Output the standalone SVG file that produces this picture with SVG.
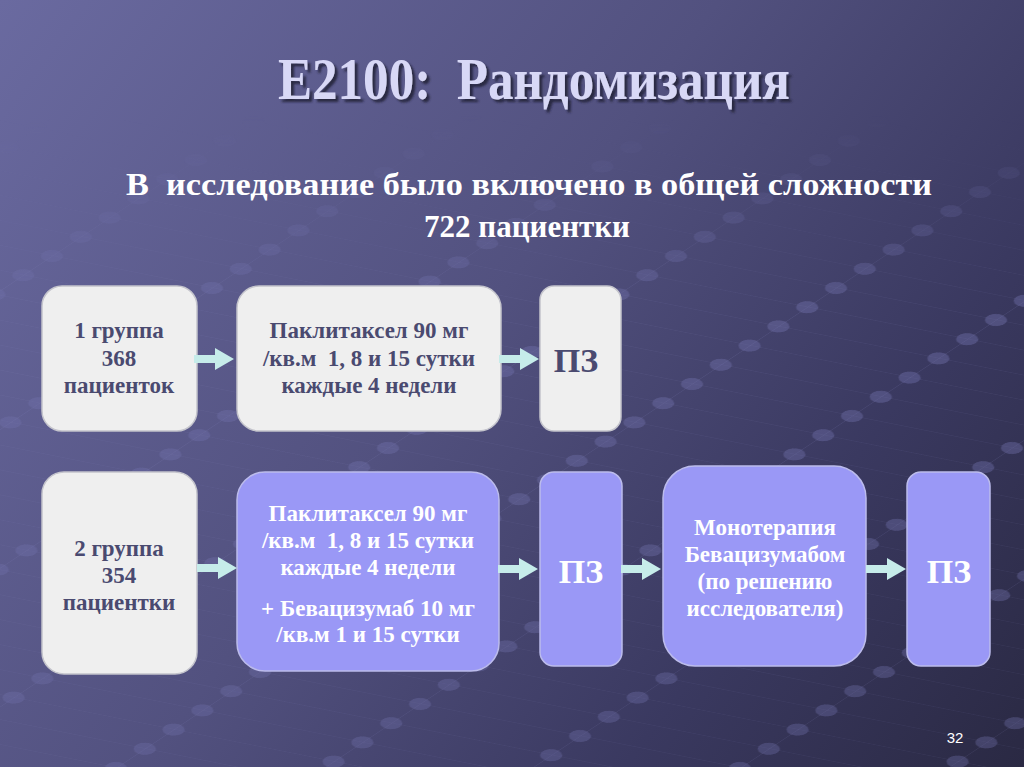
<svg xmlns="http://www.w3.org/2000/svg" width="1024" height="767" viewBox="0 0 1024 767">
  <defs>
    <linearGradient id="bg" x1="0" y1="0" x2="1024" y2="767" gradientUnits="userSpaceOnUse">
      <stop offset="0" stop-color="#6a6aa0"/>
      <stop offset="0.45" stop-color="#52517f"/>
      <stop offset="0.75" stop-color="#3a3960"/>
      <stop offset="1" stop-color="#2a2943"/>
    </linearGradient>
    <linearGradient id="fade" x1="0" y1="0" x2="0" y2="767" gradientUnits="userSpaceOnUse">
      <stop offset="0.15" stop-color="#fff" stop-opacity="0"/>
      <stop offset="0.4" stop-color="#fff" stop-opacity="1"/>
      <stop offset="1" stop-color="#fff" stop-opacity="0.8"/>
    </linearGradient>
    <mask id="gridMask">
      <rect width="1024" height="767" fill="url(#fade)"/>
    </mask>
    <pattern id="grid" patternUnits="userSpaceOnUse" width="32" height="160" patternTransform="matrix(0.9 -0.6 1 0.2 20 0)">
      <line x1="0" y1="0" x2="32" y2="0" stroke="#8c8cc4" stroke-opacity="0.3" stroke-width="1.1"/>
      <line x1="0" y1="0" x2="0" y2="160" stroke="#8c8cc4" stroke-opacity="0.15" stroke-width="1.1"/>
      <g fill="#6e6ea8" fill-opacity="0.45">
        <ellipse rx="11" ry="6" transform="translate(0,0) matrix(0.2564 0.769 -1.282 1.1538 0 0)"/>
        <ellipse rx="11" ry="6" transform="translate(32,0) matrix(0.2564 0.769 -1.282 1.1538 0 0)"/>
        <ellipse rx="11" ry="6" transform="translate(0,160) matrix(0.2564 0.769 -1.282 1.1538 0 0)"/>
        <ellipse rx="11" ry="6" transform="translate(32,160) matrix(0.2564 0.769 -1.282 1.1538 0 0)"/>
      </g>
    </pattern>
    <filter id="shadow" x="-10%" y="-30%" width="120%" height="160%">
      <feDropShadow dx="3" dy="3" stdDeviation="1.2" flood-color="#23223a" flood-opacity="0.9"/>
    </filter>
    <path id="arrow" d="M0,-4 H21 V-11 L40,0 L21,11 V4 H0 Z"/>
    <style>
      .gray { fill: #efefef; stroke: #c4c4cc; stroke-width: 1.5; }
      .lav { fill: #9a98f6; stroke: #bcbcec; stroke-width: 1.5; }
      .t { font-family: "Liberation Serif", "Times New Roman", serif; font-weight: bold; text-anchor: middle; white-space: pre; }
      .dark { fill: #4a4a70; font-size: 23px; }
      .white { fill: #ffffff; font-size: 23px; }
      .pz { font-size: 34px; }
      .arr { fill: #c6ecea; }
    </style>
  </defs>

  <g id="background">
    <rect width="1024" height="767" fill="url(#bg)"/>
    <rect width="1024" height="767" fill="url(#grid)" mask="url(#gridMask)"/>
  </g>

  <g id="title">
    <text x="534" y="99" class="t" font-size="60" fill="#d8d8f6" textLength="512" lengthAdjust="spacingAndGlyphs" filter="url(#shadow)">E2100:  Рандомизация</text>
  </g>

  <g id="subtitle">
    <text x="529" y="195" class="t" font-size="31" fill="#ffffff" textLength="806" lengthAdjust="spacingAndGlyphs">В  исследование было включено в общей сложности</text>
    <text x="527" y="237" class="t" font-size="31" fill="#ffffff">722 пациентки</text>
  </g>

  <g id="group1">
    <rect x="42" y="286" width="155" height="145" rx="20" class="gray"/>
    <text class="t dark" x="119" y="338">1 группа</text>
    <text class="t dark" x="119" y="366">368</text>
    <text class="t dark" x="119" y="393">пациенток</text>
  </g>

  <g id="paclitaxel1">
    <rect x="237" y="286" width="264" height="145" rx="22" class="gray"/>
    <text class="t dark" x="369" y="338">Паклитаксел 90 мг</text>
    <text class="t dark" x="369" y="366">/кв.м  1, 8 и 15 сутки</text>
    <text class="t dark" x="369" y="393">каждые 4 недели</text>
  </g>

  <g id="pz1">
    <rect x="540" y="286" width="81" height="145" rx="14" class="gray"/>
    <text class="t dark pz" x="576" y="372">ПЗ</text>
  </g>

  <g id="group2">
    <rect x="42" y="472" width="155" height="202" rx="22" class="gray"/>
    <text class="t dark" x="119" y="556">2 группа</text>
    <text class="t dark" x="119" y="583">354</text>
    <text class="t dark" x="119" y="610">пациентки</text>
  </g>

  <g id="paclitaxel2">
    <rect x="237" y="472" width="262" height="199" rx="28" class="lav"/>
    <text class="t white" x="368" y="521">Паклитаксел 90 мг</text>
    <text class="t white" x="368" y="548">/кв.м  1, 8 и 15 сутки</text>
    <text class="t white" x="368" y="575">каждые 4 недели</text>
    <text class="t white" x="368" y="616">+ Бевацизумаб 10 мг</text>
    <text class="t white" x="368" y="642">/кв.м 1 и 15 сутки</text>
  </g>

  <g id="pz2">
    <rect x="540" y="472" width="82" height="194" rx="14" class="lav"/>
    <text class="t white pz" x="581" y="583">ПЗ</text>
  </g>

  <g id="monotherapy">
    <rect x="663" y="466" width="203" height="200" rx="32" class="lav"/>
    <text class="t white" x="765" y="535">Монотерапия</text>
    <text class="t white" x="765" y="562">Бевацизумабом</text>
    <text class="t white" x="765" y="589">(по решению</text>
    <text class="t white" x="765" y="616">исследователя)</text>
  </g>

  <g id="pz3">
    <rect x="907" y="472" width="83" height="194" rx="14" class="lav"/>
    <text class="t white pz" x="949" y="583">ПЗ</text>
  </g>

  <g id="connectors" class="arr">
    <use href="#arrow" x="194" y="359"/>
    <use href="#arrow" x="499" y="359"/>
    <use href="#arrow" x="197" y="568"/>
    <use href="#arrow" x="498" y="569"/>
    <use href="#arrow" x="621" y="569"/>
    <use href="#arrow" x="866" y="569"/>
  </g>

  <g id="page-number">
    <text x="955" y="743" font-family="Liberation Sans, Arial, sans-serif" font-size="15" fill="#ffffff" text-anchor="middle">32</text>
  </g>
</svg>
